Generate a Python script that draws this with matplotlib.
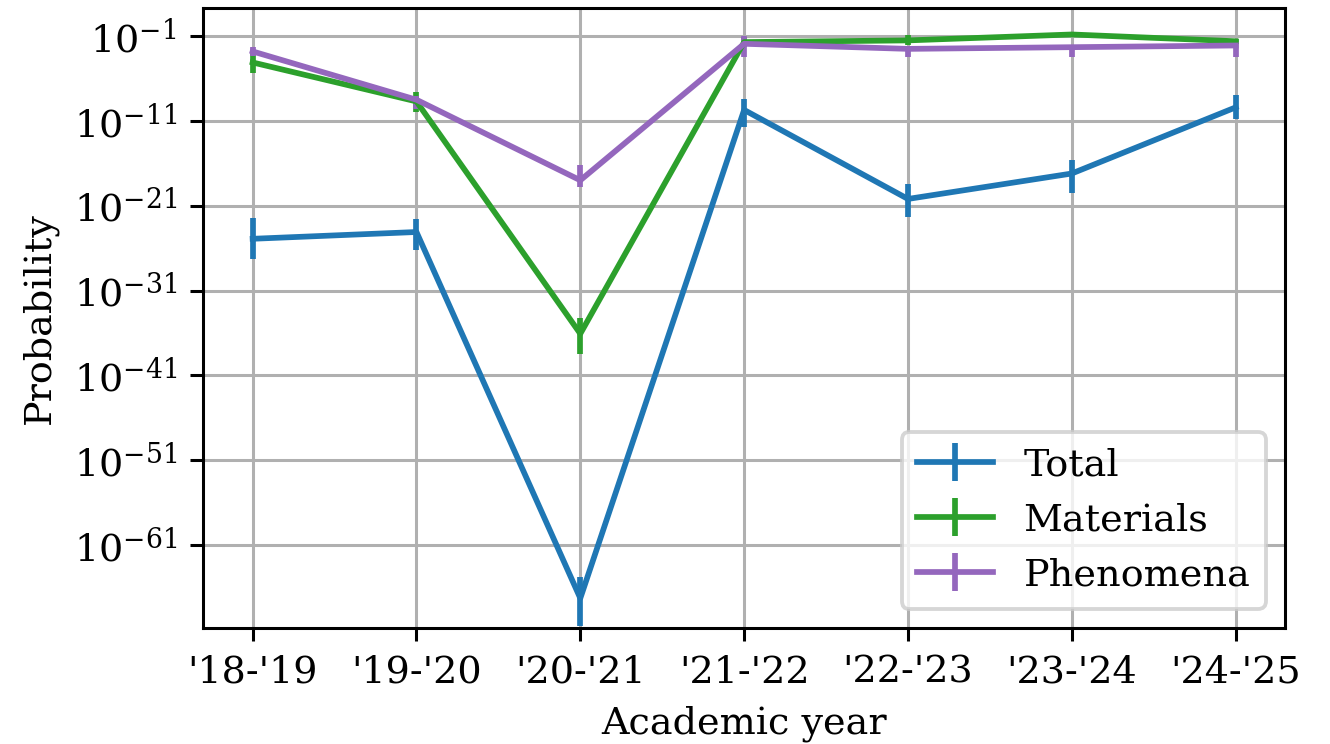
import numpy as np
import matplotlib
matplotlib.use("Agg")
import matplotlib.pyplot as plt
from matplotlib.ticker import FixedLocator, NullLocator, LogFormatterSciNotation

plt.rcParams['font.family'] = 'DejaVu Serif'

years = ["'18-'19", "'19-'20", "'20-'21", "'21-'22", "'22-'23", "'23-'24", "'24-'25"]

# log10 of probability
total_exp = [-24.9, -24.1, -67.3, -9.7, -20.2, -17.2, -9.4]
materials_exp = [-4.1, -8.7, -36.1, -1.7, -1.5, -0.8, -1.6]
phenomena_exp = [-2.8, -8.5, -18.0, -1.9, -2.5, -2.3, -2.1]

# error bar extent in decades (down, up)
total_err = ([2.4, 2.1, 3.3, 2.0, 2.1, 2.3, 1.4], [2.4, 1.5, 2.5, 1.3, 1.8, 1.6, 1.5])
materials_err = ([1.3, 1.3, 2.4, 0.6, 0.6, 0.1, 0.3], [1.2, 1.1, 1.8, 0.6, 0.6, 0.1, 0.3])
phenomena_err = ([0.5, 1.1, 0.8, 1.5, 1.0, 1.2, 1.4], [0.5, 0.4, 1.8, 0.9, 0.3, 0.2, 0.4])

series = [
    ("Total", total_exp, total_err, "tab:blue"),
    ("Materials", materials_exp, materials_err, "tab:green"),
    ("Phenomena", phenomena_exp, phenomena_err, "tab:purple"),
]

dpi = 274.3
fig, ax = plt.subplots(figsize=(1330 / dpi, 744 / dpi), dpi=dpi)
x = np.arange(len(years))

for name, e, (lo, hi), c in series:
    e = np.array(e)
    y = 10.0 ** e
    yerr = [y - 10.0 ** (e - np.array(lo)), 10.0 ** (e + np.array(hi)) - y]
    ax.errorbar(x, y, yerr=yerr, color=c, label=name, lw=1.5, elinewidth=1.5)

ax.set_yscale('log')
ax.set_ylim(10.0 ** -70.8, 10.0 ** 2.3)
ax.set_xlim(-0.3, 6.3)
ax.yaxis.set_major_locator(FixedLocator([10.0 ** k for k in range(-61, 0, 10)]))
ax.yaxis.set_major_formatter(LogFormatterSciNotation())
ax.yaxis.set_minor_locator(NullLocator())
ax.set_xticks(x)
ax.set_xticklabels(years)
ax.grid(True)
ax.set_axisbelow(True)
ax.set_xlabel("Academic year")
ax.set_ylabel("Probability")
ax.legend(loc='lower right')

fig.subplots_adjust(left=0.153, right=0.966, top=0.989, bottom=0.156)
fig.savefig("out.png", dpi=dpi)
